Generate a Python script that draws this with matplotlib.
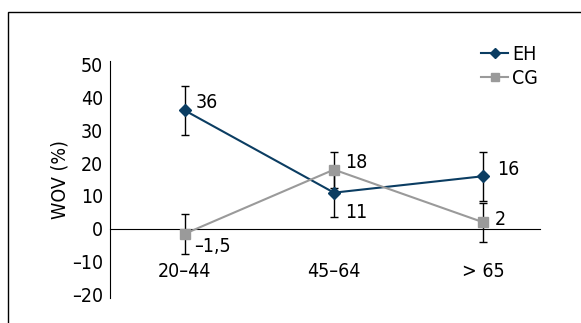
import matplotlib.pyplot as plt
from matplotlib.patches import Rectangle

plt.rcParams['font.family'] = ['DejaVu Sans']
plt.rcParams['font.stretch'] = 'condensed'

grupos = ['20–44', '45–64', '> 65']
eh = [36, 11, 16]
eh_err = [7.5, 7.5, 7.5]
cg = [-1.5, 18, 2]
cg_err = [6, 5.5, 6]
eh_txt = ['36', '11', '16']
cg_txt = ['–1,5', '18', '2']

azul = '#0b3d62'
gris = '#9a9a9a'

fig = plt.figure(figsize=(5.81, 3.23), dpi=100)
ax = fig.add_axes([110/581, 25/323, 430/581, 237/323])

x = range(len(grupos))
# barras de error primero, luego lineas
ax.errorbar(x, eh, yerr=eh_err, fmt='none', ecolor='black', elinewidth=1, capsize=3, capthick=1, zorder=2)
ax.errorbar(x, cg, yerr=cg_err, fmt='none', ecolor='black', elinewidth=1, capsize=3, capthick=1, zorder=2)
ax.plot(x, eh, color=azul, lw=1.5, marker='D', ms=6, label='EH', zorder=3)
ax.plot(x, cg, color=gris, lw=1.5, marker='s', ms=7, label='CG', zorder=3)

# etiquetas de valores
off_eh = [(8, 6), (8, -14), (10, 5)]
off_cg = [(7, -9), (8, 5), (8, 2)]
for i in x:
    ax.annotate(eh_txt[i], (i, eh[i]), xytext=off_eh[i], textcoords='offset points',
                fontsize=14, va='center', ha='left')
    ax.annotate(cg_txt[i], (i, cg[i]), xytext=off_cg[i], textcoords='offset points',
                fontsize=14, va='center', ha='left')

ax.set_xlim(-0.5, 2.38)
ax.set_ylim(-21, 51)
ax.set_yticks(range(-20, 51, 10))
ax.set_yticklabels(['–20', '–10', '0', '10', '20', '30', '40', '50'])
ax.set_xticks(list(x))
ax.set_xticklabels(grupos)
ax.tick_params(axis='x', length=0, pad=24, labelsize=14)
ax.tick_params(axis='y', length=0, pad=5, labelsize=14)
ax.set_ylabel('WOV (%)', fontsize=14, labelpad=2)

ax.spines['bottom'].set_position(('data', 0))
ax.spines['top'].set_visible(False)
ax.spines['right'].set_visible(False)
ax.spines['left'].set_bounds(-21, 51)

ax.legend(loc='upper right', bbox_to_anchor=(1.014, 1.10), frameon=False, fontsize=14,
          handlelength=1.4, handletextpad=0.2, labelspacing=0.25, borderaxespad=0,
          markerscale=0.8)

# marco de la figura
fig.patches.append(Rectangle((8/581, -0.1), 1.2, (323 - 12)/323 + 0.1, transform=fig.transFigure,
                             fill=False, edgecolor='black', lw=1))

fig.savefig('out.png', dpi=100)
